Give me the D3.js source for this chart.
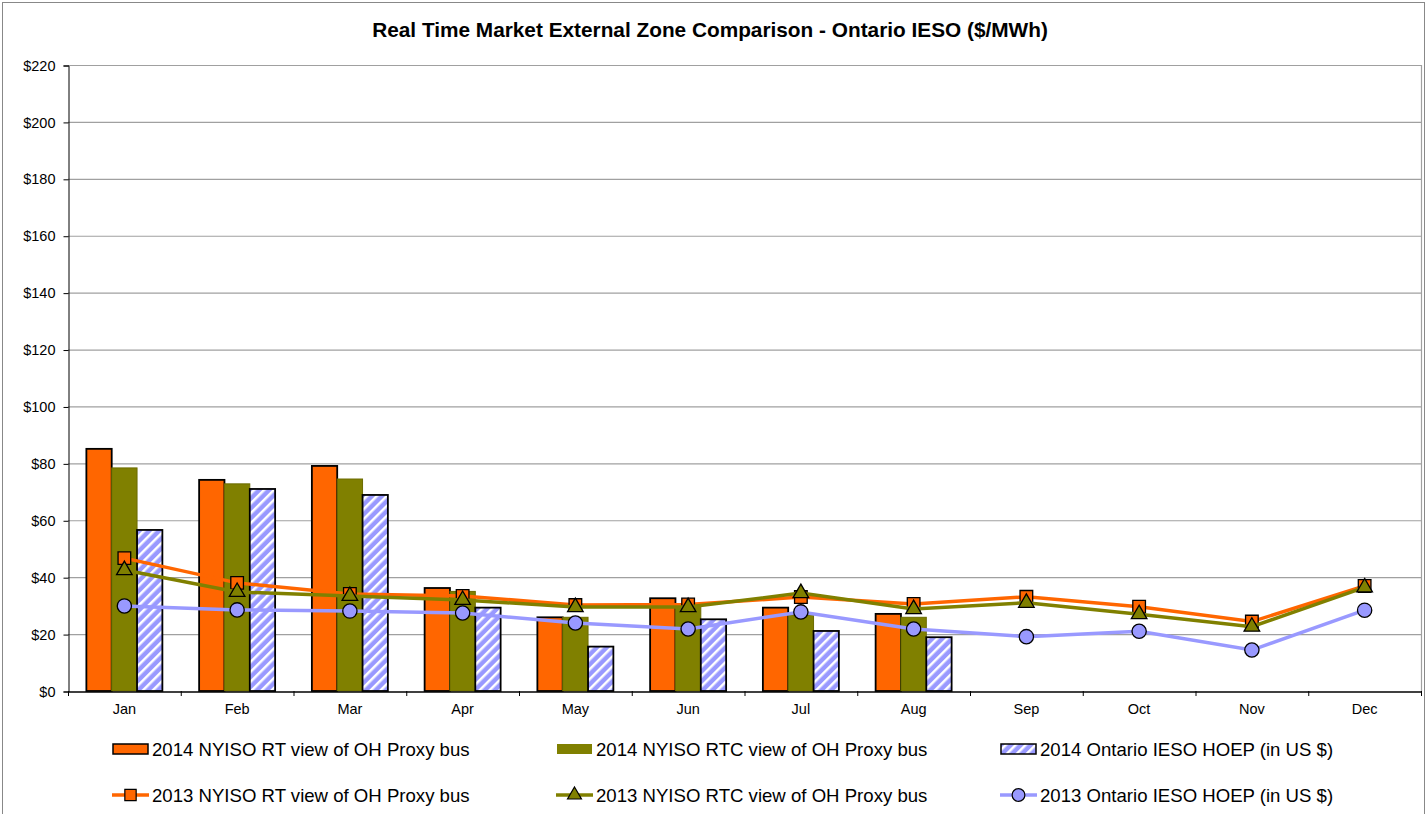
<!DOCTYPE html>
<html><head><meta charset="utf-8">
<script src="https://cdn.jsdelivr.net/npm/d3@7"></script>
<style>body{margin:0;background:#fff}svg{display:block;font-family:Arial,"Liberation Sans",sans-serif}</style>
</head><body>
<svg id="c" width="1427" height="814"></svg>
<script>
const months = ["Jan","Feb","Mar","Apr","May","Jun","Jul","Aug","Sep","Oct","Nov","Dec"];
const yTicks = [0,20,40,60,80,100,120,140,160,180,200,220];
const rt2014  = [85.1,74.2,79.1,36.2,25.9,32.6,29.3,27.1,null,null,null,null];
const rtc2014 = [78.4,72.8,74.5,35.0,25.9,30.0,26.7,25.9,null,null,null,null];
const hoep2014= [56.6,71.0,68.9,29.3,15.6,25.2,21.1,18.9,null,null,null,null];
const rt2013  = [46.7,38.0,34.1,33.4,30.2,30.4,33.0,30.6,33.1,29.6,24.4,36.9];
const rtc2013 = [42.5,34.8,33.4,32.0,29.5,29.5,34.4,28.8,31.0,27.0,22.6,36.4];
const hoep2013= [29.9,28.5,28.1,27.4,23.9,21.8,27.8,21.8,19.1,21.0,14.4,28.4];
const barNames = ["2014 NYISO RT view of OH Proxy bus","2014 NYISO RTC view of OH Proxy bus","2014 Ontario IESO HOEP (in US $)"];
const lineNames = ["2013 NYISO RT view of OH Proxy bus","2013 NYISO RTC view of OH Proxy bus","2013 Ontario IESO HOEP (in US $)"];

const svg = d3.select("#c");
const L=68,R=1421,T=65,B=691;
const ORANGE="#FF6600", OLIVE="#808000", BLUE="#9999FF";

const defs = svg.append("defs");
const pat = defs.append("pattern").attr("id","hatch").attr("patternUnits","userSpaceOnUse")
  .attr("width",7).attr("height",7).attr("patternTransform","rotate(45)");
pat.append("rect").attr("width",7).attr("height",7).attr("fill",BLUE);
pat.append("rect").attr("x",0).attr("width",2.5).attr("height",7).attr("fill","#fff");

// outer border
svg.append("rect").attr("x",2.5).attr("y",2.5).attr("width",1422).attr("height",820)
  .attr("fill","none").attr("stroke","#888").attr("stroke-width",1);

svg.append("text").attr("x",710).attr("y",37).attr("text-anchor","middle")
  .attr("font-size",20.8).attr("font-weight","bold").text("Real Time Market External Zone Comparison - Ontario IESO ($/MWh)");

const x = d3.scaleBand().domain(months).range([L,R]);
const y = d3.scaleLinear().domain([0,220]).range([B,T]);

// gridlines
svg.append("g").selectAll("line").data(yTicks.filter(d=>d>0)).join("line")
  .attr("x1",L).attr("x2",R).attr("y1",d=>y(d)+0.5).attr("y2",d=>y(d)+0.5)
  .attr("stroke","#a0a0a0").attr("stroke-width",1.2);
svg.append("line").attr("x1",R+0.5).attr("x2",R+0.5).attr("y1",T).attr("y2",B).attr("stroke","#a0a0a0").attr("stroke-width",1.2);

// y axis
const ya = svg.append("g").attr("transform",`translate(${L+0.5},0.5)`)
  .call(d3.axisLeft(y).tickValues(yTicks).tickFormat(d=>"$"+d).tickSize(5).tickPadding(8));
ya.select(".domain").attr("stroke","#000");
ya.selectAll("text").attr("font-size",14.5).attr("fill","#000").attr("font-family","Arial, Liberation Sans, sans-serif");

// bars
const inner = d3.scaleBand().domain([0,1,2]).range([0,76]);
const bw = x.bandwidth();
const off = (bw-76)/2;
const barSets = [
  {v:rt2014, fill:ORANGE, stroke:"#000"},
  {v:rtc2014, fill:OLIVE, stroke:"#6b6b00"},
  {v:hoep2014, fill:"url(#hatch)", stroke:"#000"}
];
barSets.forEach((s,i)=>{
  svg.append("g").selectAll("rect").data(months.map((m,j)=>({m,v:s.v[j]})).filter(d=>d.v!=null)).join("rect")
    .attr("x",d=>x(d.m)+off+inner(i)).attr("width",inner.bandwidth())
    .attr("y",d=>y(d.v)).attr("height",d=>B-y(d.v))
    .attr("fill",s.fill).attr("stroke",s.stroke).attr("stroke-width",i===1?1:1.8);
});

// x axis
const xa = svg.append("g").attr("transform",`translate(0,${B+0.5})`)
  .call(d3.axisBottom(x).tickSize(0).tickPadding(12));
xa.select(".domain").attr("stroke","#000").attr("stroke-width",1.5);
xa.selectAll("text").attr("font-size",14.5).attr("fill","#000").attr("font-family","Arial, Liberation Sans, sans-serif");
svg.append("g").selectAll("line").data(d3.range(13)).join("line")
  .attr("x1",i=>L+i*bw+0.5).attr("x2",i=>L+i*bw+0.5).attr("y1",B).attr("y2",B+5).attr("stroke","#000");

// lines
const cx = m=>x(m)+bw/2;
const lineGen = d3.line().x(d=>cx(d.m)).y(d=>y(d.v));
const lineSets = [
  {v:rt2013,color:ORANGE,sym:d3.symbolSquare,size:160},
  {v:rtc2013,color:OLIVE,sym:d3.symbolTriangle,size:105},
  {v:hoep2013,color:BLUE,sym:d3.symbolCircle,size:160}
];
lineSets.forEach(s=>{
  const data = months.map((m,j)=>({m,v:s.v[j]}));
  svg.append("path").datum(data).attr("d",lineGen).attr("fill","none").attr("stroke",s.color).attr("stroke-width",3.5);
  svg.append("g").selectAll("path").data(data).join("path")
    .attr("transform",d=>`translate(${cx(d.m)},${y(d.v)})`)
    .attr("d",d3.symbol().type(s.sym).size(s.size))
    .attr("fill",s.color).attr("stroke","#000").attr("stroke-width",1.3);
});

// legend
const colX=[112,556,1000];
const lg = svg.append("g");
barSets.forEach((s,i)=>{
  const g = lg.append("g").attr("transform",`translate(${colX[i]},749)`);
  g.append("rect").attr("x",1).attr("y",-5).attr("width",35).attr("height",10)
    .attr("fill",s.fill).attr("stroke",i===1?"none":"#000").attr("stroke-width",1.5);
  g.append("text").attr("x",40).attr("y",6.5).attr("font-size",18.6).text(barNames[i]);
});
lineSets.forEach((s,i)=>{
  const g = lg.append("g").attr("transform",`translate(${colX[i]},795)`);
  g.append("line").attr("x1",0).attr("x2",37).attr("y1",0).attr("y2",0).attr("stroke",s.color).attr("stroke-width",3.5);
  g.append("path").attr("transform","translate(18.5,0)").attr("d",d3.symbol().type(s.sym).size(s.size*0.8)())
    .attr("fill",s.color).attr("stroke","#000").attr("stroke-width",1.2);
  g.append("text").attr("x",40).attr("y",6.5).attr("font-size",18.6).text(lineNames[i]);
});
</script>
</body></html>
